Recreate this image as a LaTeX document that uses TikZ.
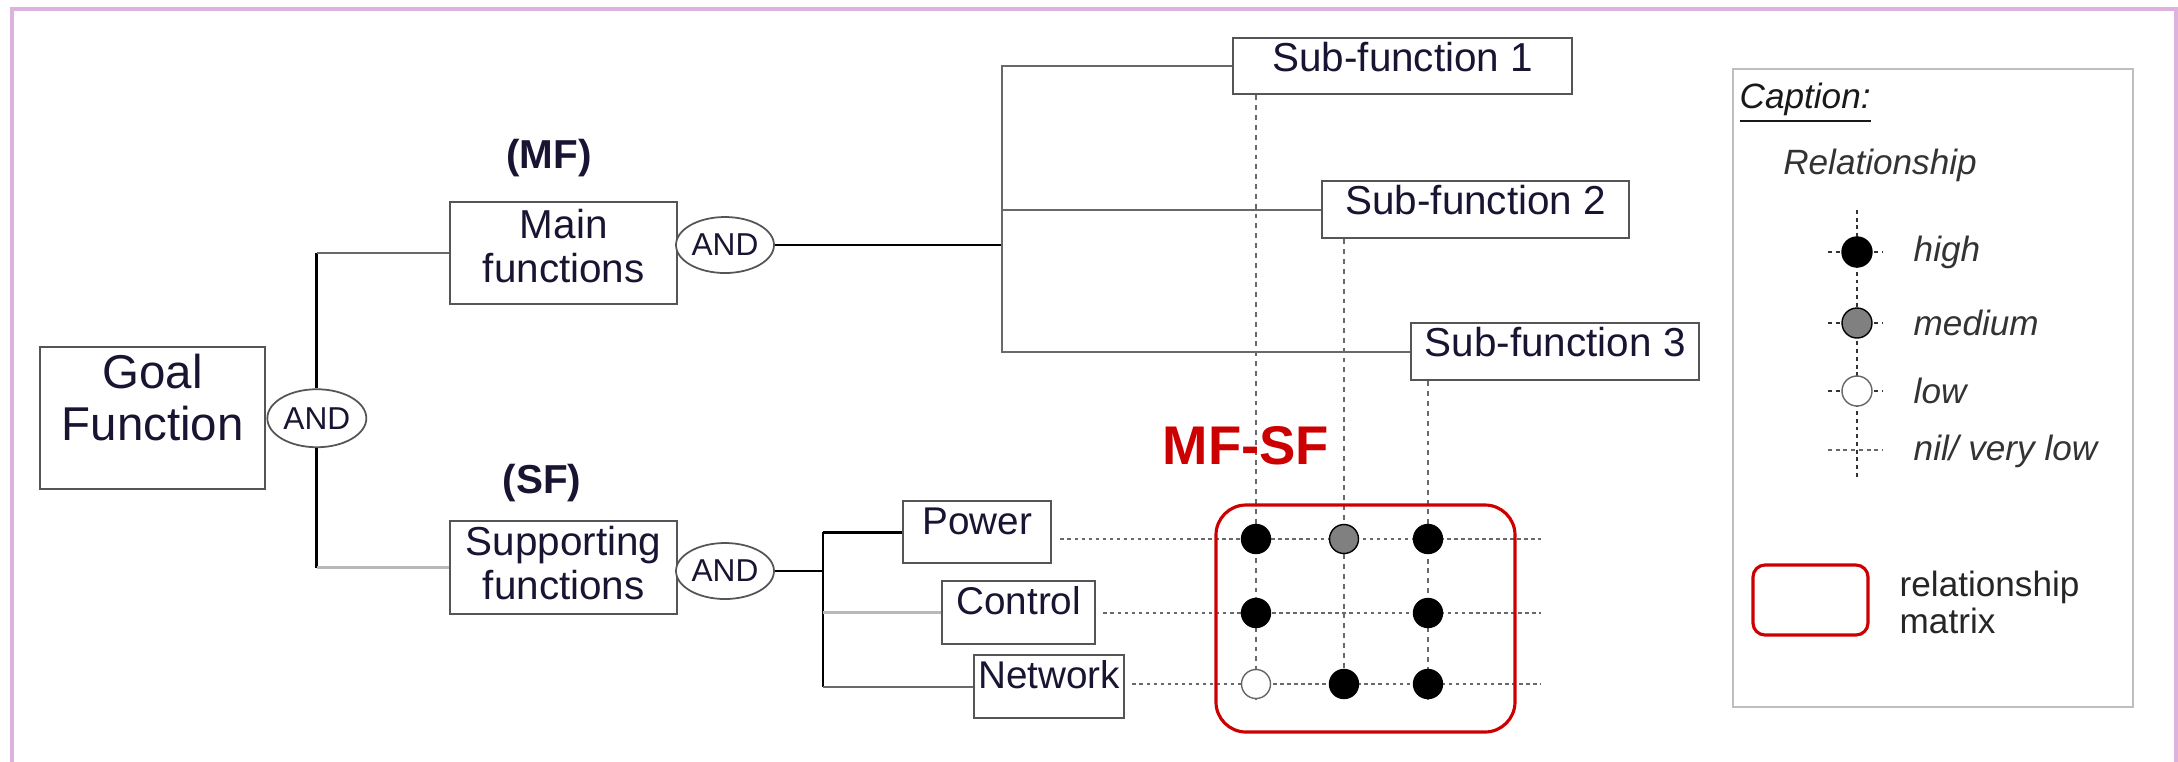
\documentclass[tikz,border=0pt]{standalone}
\usepackage{fontspec}
\setmainfont{Liberation Sans}
\usepackage{xcolor}
\usetikzlibrary{positioning,shapes.geometric}
\definecolor{frameLilac}{RGB}{221,178,222}
\definecolor{boxGray}{RGB}{85,85,85}
\definecolor{lineGray}{RGB}{105,105,105}
\definecolor{lineLight}{RGB}{185,185,185}
\definecolor{matRed}{RGB}{204,0,0}
\definecolor{legGray}{RGB}{190,190,190}
\definecolor{txtDark}{RGB}{25,20,50}
\tikzset{
  Fbox/.style={draw=boxGray, line width=0.7pt, fill=white, inner sep=0pt,
               anchor=north west, align=center, text=txtDark,
               font=\fontsize{11.5}{12.5}\selectfont, text height=0.335cm},
  Gate/.style={ellipse, draw=boxGray, line width=0.5pt, fill=white, inner sep=0pt,
               minimum width=0.98cm, minimum height=0.56cm,
               font=\fontsize{9}{10}\selectfont, text=txtDark},
  Tag/.style={font=\bfseries\fontsize{11.5}{12.5}\selectfont, text=txtDark},
  Lblk/.style={line width=0.8pt, black},
  Lgry/.style={line width=0.7pt, lineGray},
  Llgt/.style={line width=0.9pt, lineLight},
  Vdash/.style={line width=0.45pt, lineGray, dash pattern=on 1.4pt off 1.4pt},
  Hdot/.style={line width=0.55pt, lineGray, dash pattern=on 1pt off 1pt},
  Ldot/.style={line width=0.6pt, black!80, dash pattern=on 1.1pt off 1.1pt},
  Rel/.style={circle, draw=black, line width=0.4pt, inner sep=0pt, minimum size=0.29cm},
  RelHigh/.style={Rel, fill=black},
  RelMed/.style={Rel, fill=black!50},
  RelLow/.style={Rel, draw=black!60, fill=white},
  Legtxt/.style={anchor=west, font=\itshape\fontsize{10}{11}\selectfont,
                 text=black!80, inner sep=0pt},
  MatBox/.style={draw=matRed, line width=0.9pt}
}
\begin{document}
\begin{tikzpicture}
  \clip (0,0) rectangle (21.78,-7.61);
  \draw[frameLilac, line width=1pt] (0.12,-7.9) -- (0.12,-0.09) -- (21.76,-0.09) -- (21.76,-7.9);

  % goal and the two function groups
  \node[Fbox, font=\fontsize{13.5}{15}\selectfont, text width=2.25cm,
        text height=0.41cm, text depth=1.01cm] (goal) at (0.39,-3.46) {Goal\\Function};
  \node[Gate, right=0pt of goal, minimum width=0.99cm, minimum height=0.58cm] (gand) {AND};

  \node[Tag] (mftag) at (5.49,-1.58) {(MF)};
  \node[Fbox, text width=2.27cm, text height=0.365cm, text depth=0.655cm] (mf)
    at (4.49,-2.01) {Main\\functions};
  \node[Gate] (mfand) at (7.25,-2.45) {AND};

  \node[Tag] (sftag) at (5.42,-4.83) {(SF)};
  \node[Fbox, text width=2.27cm, text height=0.345cm, text depth=0.585cm] (sf)
    at (4.49,-5.20) {Supporting\\functions};
  \node[Gate] (sfand) at (7.25,-5.71) {AND};

  % sub-functions of MF
  \node[Fbox, minimum width=3.39cm, text depth=0.225cm] (sub1) at (12.32,-0.37) {Sub-function 1};
  \node[Fbox, minimum width=3.07cm, text depth=0.235cm] (sub2) at (13.21,-1.80) {Sub-function 2};
  \node[Fbox, minimum width=2.88cm, text depth=0.235cm] (sub3) at (14.10,-3.22) {Sub-function 3};

  % supporting functions
  \node[Fbox, font=\fontsize{11}{12}\selectfont, minimum width=1.48cm, text depth=0.285cm] (power)
    at (9.02,-5.00) {Power};
  \node[Fbox, font=\fontsize{11}{12}\selectfont, minimum width=1.53cm, text depth=0.295cm] (control)
    at (9.41,-5.80) {Control};
  \node[Fbox, font=\fontsize{11}{12}\selectfont, minimum width=1.50cm, text depth=0.295cm] (network)
    at (9.73,-6.54) {Network};

  % tree links
  \draw[Lblk] (gand.north) -- (gand.north |- mf.west);
  \draw[Lgry] (gand.north |- mf.west) -- (mf.west);
  \draw[Lblk] (gand.south) -- (gand.south |- sf.west);
  \draw[Llgt] (gand.south |- sf.west) -- (sf.west);

  \coordinate (mfj) at (10.02,-2.45);
  \draw[Lblk] (mfand.east) -- (mfj);
  \draw[Lgry] (mfj) |- (sub1.west);
  \draw[Lgry] (mfj) |- (sub2.west);
  \draw[Lgry] (mfj) |- (sub3.west);

  \coordinate (sfj) at (8.23,-5.71);
  \draw[Lblk] (sfand.east) -- (sfj);
  \draw[Lblk] (sfj |- power.west) -- (sfj |- network.west);
  \draw[Lblk] (sfj |- power.west) -- (power.west);
  \draw[Llgt] (sfj |- control.west) -- (control.west);
  \draw[Lgry] (sfj |- network.west) -- (network.west);

  % MF-SF relationship matrix
  \coordinate (c1) at (12.56,-7.00);
  \coordinate (c2) at (13.44,-7.00);
  \coordinate (c3) at (14.28,-7.00);
  \coordinate (r1) at (15.41,-5.39);
  \coordinate (r2) at (15.41,-6.13);
  \coordinate (r3) at (15.41,-6.84);
  \draw[Vdash] (sub1.south -| c1) -- (c1);
  \draw[Vdash] (sub2.south -| c2) -- (c2);
  \draw[Vdash] (sub3.south -| c3) -- (c3);
  \draw[Hdot, shorten <=0.08cm] (power.east |- r1) -- (r1);
  \draw[Hdot, shorten <=0.07cm] (control.east |- r2) -- (r2);
  \draw[Hdot, shorten <=0.07cm] (network.east |- r3) -- (r3);

  \node[MatBox, rounded corners=0.3cm, minimum width=2.99cm, minimum height=2.27cm]
    (relmat) at (13.655,-6.185) {};
  \node[font=\bfseries\fontsize{15.5}{17}\selectfont, text=matRed] (mfsf) at (12.46,-4.46) {MF-SF};

  \node[RelHigh] (d11) at (c1 |- r1) {};
  \node[RelMed]  (d12) at (c2 |- r1) {};
  \node[RelHigh] (d13) at (c3 |- r1) {};
  \node[RelHigh] (d21) at (c1 |- r2) {};
  \node[RelHigh] (d23) at (c3 |- r2) {};
  \node[RelLow]  (d31) at (c1 |- r3) {};
  \node[RelHigh] (d32) at (c2 |- r3) {};
  \node[RelHigh] (d33) at (c3 |- r3) {};

  % caption
  \node[draw=legGray, line width=0.6pt, minimum width=4.00cm, minimum height=6.38cm,
        anchor=north west, inner sep=0pt] (legend) at (17.32,-0.68) {};
  \node[Legtxt, text=black!90] (cap) at (17.39,-1.03) {\underline{Caption:}};
  \node[Legtxt, anchor=center] (relhead) at (18.80,-1.65) {Relationship};

  \coordinate (ltop) at (18.57,-2.10);
  \coordinate (lbot) at (18.57,-4.78);
  \coordinate (lh) at (18.57,-2.52);
  \coordinate (lm) at (18.57,-3.23);
  \coordinate (ll) at (18.57,-3.91);
  \coordinate (ln) at (18.57,-4.50);
  \draw[Ldot] (ltop) -- (lbot);
  \draw[Ldot] ([xshift=-0.29cm]lh) -- ([xshift=0.26cm]lh);
  \draw[Ldot] ([xshift=-0.29cm]lm) -- ([xshift=0.26cm]lm);
  \draw[Ldot] ([xshift=-0.29cm]ll) -- ([xshift=0.26cm]ll);
  \draw[Ldot, black!60] ([xshift=-0.29cm]ln) -- ([xshift=0.26cm]ln);
  \node[RelHigh, minimum size=0.30cm] (lhigh) at (lh) {};
  \node[RelMed, minimum size=0.30cm] (lmed) at (lm) {};
  \node[RelLow, minimum size=0.30cm] (llow) at (ll) {};

  \node[Legtxt] (thigh) at (19.13,-2.52) {high};
  \node[Legtxt] (tmed) at (19.13,-3.23) {medium};
  \node[Legtxt] (tlow) at (19.13,-3.91) {low};
  \node[Legtxt] (tnil) at (19.13,-4.51) {nil/ very low};

  \node[MatBox, rounded corners=0.12cm, minimum width=1.15cm, minimum height=0.70cm]
    (lmat) at (18.105,-6.00) {};
  \node[Legtxt, font=\fontsize{10}{10.5}\selectfont, align=left, text=black!85] (tmat)
    at (18.99,-6.02) {relationship\\matrix};
\end{tikzpicture}
\end{document}
